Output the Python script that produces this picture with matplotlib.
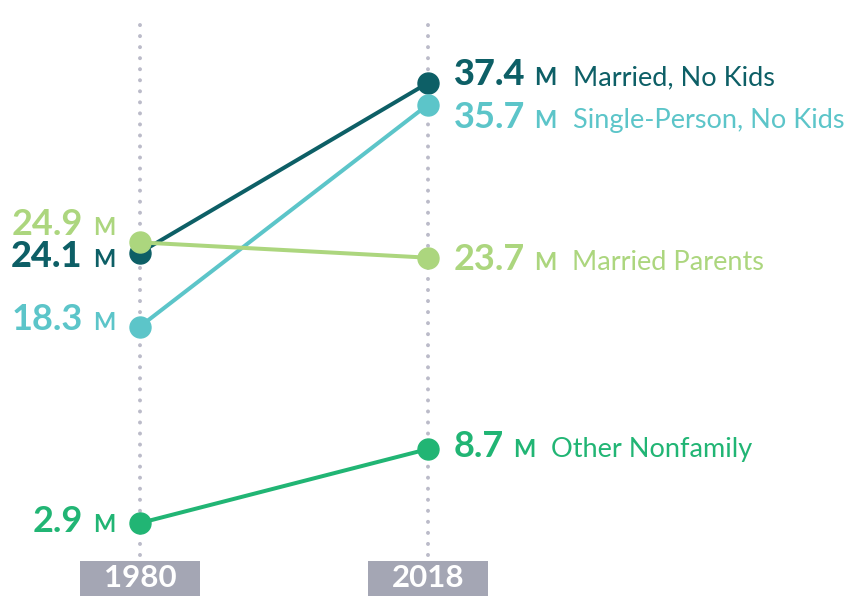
import matplotlib.pyplot as plt

# -----------------------------
# Données (millions de ménages)
# -----------------------------
annees = ["1980", "2018"]
series = ["Married, No Kids", "Single-Person, No Kids", "Married Parents", "Other Nonfamily"]
val_1980 = [24.1, 18.3, 24.9, 2.9]
val_2018 = [37.4, 35.7, 23.7, 8.7]
couleurs = ["#0d5f66", "#5cc5c9", "#acd67e", "#21b574"]

# décalage vertical des étiquettes (pixels, ligne de base par rapport au point)
dy_gauche = [-14, -3, 7, -9]
dy_droite = [-2, -23, -12, -8]

plt.rcParams["font.family"] = ["Lato", "DejaVu Sans"]

fig = plt.figure(figsize=(8.58, 5.96), dpi=100)
ax = fig.add_axes([0, 0, 1, 1])
ax.set_xlim(-0.486, 2.493)
ax.set_ylim(-2.82, 43.9)
ax.axis("off")

px = 0.72  # 1 pixel en points

# lignes verticales pointillées
for x in [0, 1]:
    ax.plot([x, x], [2.9 - 32 / 12.754, 2.9 + 506 / 12.754], color="#bbbbc9",
            lw=4 * px, dashes=(0.01, 2.75), dash_capstyle="round", zorder=1)

# boîtes grises + années
for x, a in zip([0, 1], annees):
    ax.add_patch(plt.Rectangle((x - 60 / 288, -2.82), 120 / 288, 35 / 12.754,
                               fc="#a4a6b4", ec="none", zorder=2))
    ax.annotate(a, xy=(x, -2.82), xytext=(0, 4 * px), textcoords="offset points",
                ha="center", va="bottom", color="white",
                fontsize=22.5, fontweight="bold", zorder=3)

rend = fig.canvas.get_renderer()

for nom, v0, v1, c, dg, dd in zip(series, val_1980, val_2018, couleurs, dy_gauche, dy_droite):
    ax.plot([0, 1], [v0, v1], color=c, lw=4 * px, solid_capstyle="round", zorder=4)
    ax.plot([0, 1], [v0, v1], "o", color=c, ms=21 * px, zorder=5)
    poids = "black" if c == "#0d5f66" else "bold"

    # --- gauche : "24.1 M"
    tm = ax.annotate("M", xy=(0, v0), xytext=(-25 * px, dg * px), textcoords="offset points",
                     ha="right", va="baseline", color=c, fontsize=17, fontweight="bold")
    wm = tm.get_window_extent(rend).width
    ax.annotate(f"{v0}", xy=(0, v0), xytext=((-25 - wm - 10) * px, dg * px),
                textcoords="offset points", ha="right", va="baseline", color=c,
                fontsize=26, fontweight=poids)

    # --- droite : "37.4 M  Married, No Kids"
    tn = ax.annotate(f"{v1}", xy=(1, v1), xytext=(26 * px, dd * px), textcoords="offset points",
                     ha="left", va="baseline", color=c, fontsize=26, fontweight=poids)
    wn = tn.get_window_extent(rend).width
    tm2 = ax.annotate("M", xy=(1, v1), xytext=((26 + wn + 9) * px, dd * px),
                      textcoords="offset points", ha="left", va="baseline", color=c,
                      fontsize=17, fontweight="bold")
    wm2 = tm2.get_window_extent(rend).width
    ax.annotate(nom, xy=(1, v1), xytext=((26 + wn + 9 + wm2 + 16) * px, dd * px),
                textcoords="offset points", ha="left", va="baseline", color=c,
                fontsize=19.5)

plt.savefig("out.png", dpi=100)
